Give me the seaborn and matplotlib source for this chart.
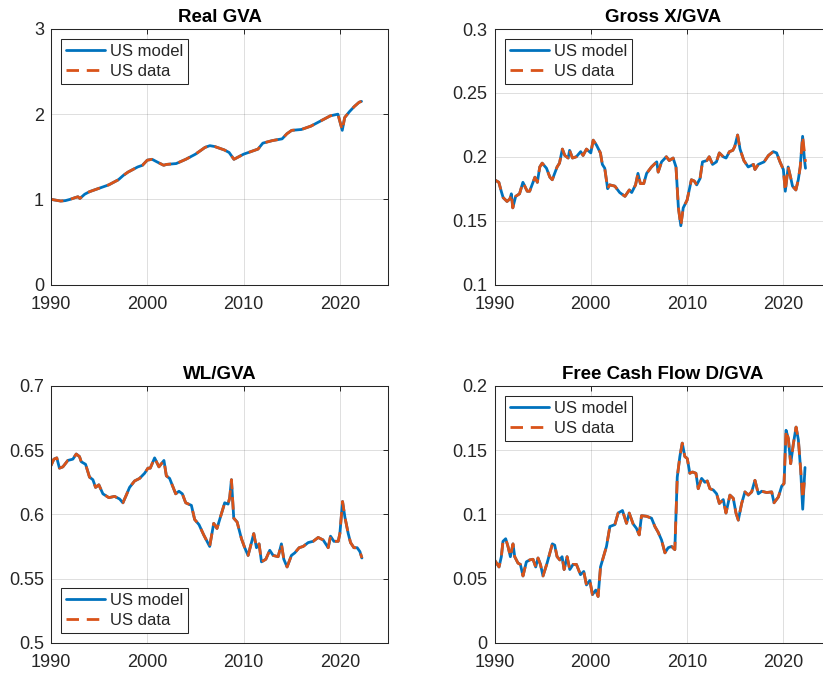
import seaborn as sns
import matplotlib.pyplot as plt

sns.set_style('white')
plt.rcParams['font.family'] = ['Liberation Sans', 'DejaVu Sans']

BLUE = '#0072BD'
ORANGE = '#D95319'
INK = '#262626'

# ---- Real GVA ----
gva_years = [1990.0, 1990.5, 1991.0, 1991.5, 1992.0, 1992.5, 1992.8, 1993.0, 1993.5, 1994.0,
             1995.0, 1996.0, 1997.0, 1997.5, 1998.0, 1999.0, 1999.5, 2000.0, 2000.5, 2001.0,
             2001.7, 2002.0, 2003.0, 2004.0, 2005.0, 2006.0, 2006.5, 2007.0, 2007.5, 2008.0,
             2008.5, 2009.0, 2009.5, 2010.0, 2011.0, 2011.5, 2012.0, 2013.0, 2014.0, 2014.5,
             2015.0, 2016.0, 2017.0, 2018.0, 2018.5, 2019.0, 2019.8, 2020.25, 2020.5, 2021.0,
             2021.5, 2022.0, 2022.25]
gva_model = [1.00, 0.99, 0.98, 0.985, 1.00, 1.02, 1.03, 1.01, 1.06, 1.09,
             1.13, 1.17, 1.23, 1.28, 1.32, 1.38, 1.40, 1.46, 1.47, 1.44,
             1.40, 1.41, 1.42, 1.47, 1.53, 1.61, 1.63, 1.62, 1.60, 1.58,
             1.55, 1.47, 1.50, 1.53, 1.57, 1.59, 1.66, 1.69, 1.71, 1.77,
             1.81, 1.82, 1.86, 1.92, 1.95, 1.98, 2.00, 1.81, 1.96, 2.03,
             2.09, 2.14, 2.15]
gva_data = list(gva_model)

# ---- Gross X/GVA ----
x_years = [1990.0, 1990.45, 1990.7, 1990.9, 1991.3, 1991.6, 1991.75, 1991.9, 1992.2, 1992.6,
           1992.95, 1993.4, 1993.65, 1994.2, 1994.45, 1994.7, 1994.95, 1995.4, 1995.75, 1996.0,
           1996.5, 1996.75, 1997.05, 1997.3, 1997.65, 1997.8, 1998.1, 1998.5, 1998.95, 1999.2,
           1999.55, 2000.0, 2000.25, 2000.6, 2001.0, 2001.2, 2001.45, 2001.75, 2001.95, 2002.5,
           2003.0, 2003.55, 2004.0, 2004.25, 2004.65, 2004.9, 2005.15, 2005.5, 2005.8, 2006.3,
           2006.85, 2007.0, 2007.35, 2007.85, 2008.15, 2008.55, 2008.85, 2009.1, 2009.35, 2009.6,
           2010.0, 2010.45, 2010.75, 2011.0, 2011.35, 2011.6, 2012.05, 2012.3, 2012.65, 2013.05,
           2013.35, 2013.75, 2014.05, 2014.4, 2014.75, 2014.95, 2015.25, 2015.5, 2015.9, 2016.35,
           2016.9, 2017.05, 2017.4, 2018.0, 2018.45, 2018.95, 2019.3, 2019.65, 2020.0, 2020.2,
           2020.5, 2020.75, 2020.95, 2021.3, 2021.55, 2021.75, 2022.0, 2022.2, 2022.3]
x_model = [0.182, 0.180, 0.173, 0.168, 0.165, 0.167, 0.171, 0.160, 0.169, 0.171,
           0.180, 0.173, 0.173, 0.184, 0.180, 0.192, 0.195, 0.191, 0.184, 0.182,
           0.192, 0.195, 0.206, 0.201, 0.199, 0.205, 0.199, 0.200, 0.204, 0.201,
           0.206, 0.203, 0.213, 0.209, 0.203, 0.194, 0.191, 0.175, 0.178, 0.177,
           0.172, 0.169, 0.174, 0.172, 0.178, 0.187, 0.179, 0.179, 0.187, 0.192,
           0.196, 0.188, 0.196, 0.200, 0.197, 0.199, 0.192, 0.160, 0.146, 0.160,
           0.166, 0.182, 0.181, 0.178, 0.183, 0.196, 0.197, 0.200, 0.194, 0.196,
           0.203, 0.200, 0.199, 0.204, 0.205, 0.208, 0.217, 0.206, 0.197, 0.192,
           0.194, 0.190, 0.194, 0.196, 0.201, 0.204, 0.203, 0.196, 0.190, 0.173,
           0.192, 0.184, 0.177, 0.174, 0.182, 0.192, 0.216, 0.197, 0.191]
x_data = x_model[:-2] + [0.203, 0.196]

# ---- WL/GVA ----
wl_years = [1990.0, 1990.3, 1990.6, 1990.88, 1991.23, 1991.75, 1992.27, 1992.62, 1992.96, 1993.14,
            1993.59, 1994.0, 1994.35, 1994.63, 1994.97, 1995.39, 1996.01, 1996.6, 1997.12, 1997.47,
            1997.82, 1998.16, 1998.68, 1999.2, 1999.72, 2000.07, 2000.31, 2000.76, 2001.21, 2001.73,
            2001.98, 2002.32, 2002.95, 2003.29, 2003.64, 2003.99, 2004.58, 2004.92, 2005.37, 2005.86,
            2006.48, 2006.9, 2007.24, 2007.8, 2008.04, 2008.39, 2008.56, 2008.74, 2008.98, 2009.33,
            2009.78, 2010.12, 2010.47, 2010.82, 2011.06, 2011.34, 2011.61, 2011.86, 2012.31, 2012.72,
            2013.07, 2013.59, 2013.93, 2014.18, 2014.52, 2014.97, 2015.32, 2015.77, 2016.19, 2016.71,
            2017.23, 2017.75, 2018.27, 2018.79, 2019.03, 2019.38, 2019.83, 2020.0, 2020.28, 2020.52,
            2020.87, 2021.11, 2021.46, 2021.8, 2022.08, 2022.29]
wl_model = [0.638, 0.643, 0.644, 0.636, 0.637, 0.642, 0.643, 0.647, 0.645, 0.641,
            0.639, 0.629, 0.627, 0.621, 0.623, 0.616, 0.613, 0.614, 0.612, 0.609,
            0.615, 0.621, 0.626, 0.628, 0.632, 0.636, 0.636, 0.644, 0.637, 0.642,
            0.630, 0.628, 0.616, 0.618, 0.616, 0.609, 0.607, 0.596, 0.592, 0.584,
            0.575, 0.593, 0.589, 0.603, 0.609, 0.608, 0.613, 0.627, 0.597, 0.594,
            0.581, 0.574, 0.568, 0.578, 0.585, 0.574, 0.577, 0.563, 0.565, 0.572,
            0.568, 0.567, 0.577, 0.565, 0.559, 0.568, 0.570, 0.574, 0.575, 0.578,
            0.579, 0.582, 0.580, 0.574, 0.583, 0.579, 0.579, 0.585, 0.610, 0.598,
            0.585, 0.578, 0.574, 0.574, 0.571, 0.566]
wl_data = list(wl_model)

# ---- Free Cash Flow D/GVA ----
fcf_years = [1990.0, 1990.47, 1990.71, 1990.88, 1991.16, 1991.4, 1991.65, 1991.92, 1992.1, 1992.44,
             1992.69, 1992.96, 1993.31, 1993.66, 1994.0, 1994.28, 1994.52, 1994.77, 1995.04, 1995.46,
             1996.01, 1996.25, 1996.5, 1996.78, 1997.02, 1997.23, 1997.54, 1997.82, 1998.16, 1998.51,
             1998.93, 1999.27, 1999.55, 1999.9, 2000.17, 2000.52, 2000.76, 2001.01, 2001.28, 2001.63,
             2001.98, 2002.5, 2002.84, 2003.29, 2003.71, 2003.99, 2004.4, 2004.75, 2005.03, 2005.27,
             2005.79, 2006.31, 2006.66, 2007.0, 2007.35, 2007.7, 2008.04, 2008.39, 2008.73, 2008.98,
             2009.25, 2009.5, 2009.77, 2010.02, 2010.29, 2010.57, 2010.92, 2011.16, 2011.51, 2011.85,
             2012.1, 2012.37, 2012.72, 2013.07, 2013.35, 2013.76, 2014.04, 2014.45, 2014.8, 2015.08,
             2015.32, 2015.67, 2016.01, 2016.36, 2016.71, 2017.05, 2017.4, 2017.75, 2018.27, 2018.79,
             2019.03, 2019.48, 2019.83, 2020.07, 2020.28, 2020.52, 2020.76, 2021.04, 2021.32, 2021.56,
             2021.8, 2022.01, 2022.25]
fcf_model = [0.0645, 0.059, 0.067, 0.079, 0.081, 0.075, 0.067, 0.077, 0.067, 0.062,
             0.061, 0.052, 0.063, 0.0645, 0.065, 0.059, 0.066, 0.061, 0.052, 0.062,
             0.077, 0.076, 0.067, 0.0645, 0.067, 0.057, 0.067, 0.057, 0.061, 0.061,
             0.053, 0.0555, 0.045, 0.0485, 0.0375, 0.041, 0.036, 0.059, 0.066, 0.075,
             0.0905, 0.092, 0.101, 0.103, 0.093, 0.101, 0.0925, 0.089, 0.084, 0.099,
             0.0985, 0.097, 0.0905, 0.086, 0.080, 0.070, 0.074, 0.075, 0.0725, 0.129,
             0.145, 0.1555, 0.145, 0.1435, 0.132, 0.133, 0.132, 0.120, 0.128, 0.125,
             0.126, 0.120, 0.119, 0.116, 0.1085, 0.1115, 0.101, 0.115, 0.1125, 0.101,
             0.0955, 0.1085, 0.1175, 0.115, 0.1175, 0.1265, 0.116, 0.118, 0.117, 0.1175,
             0.109, 0.1135, 0.122, 0.124, 0.1655, 0.159, 0.1395, 0.155, 0.168, 0.158,
             0.1345, 0.104, 0.1365]
fcf_data = fcf_model[:-2] + [0.112, 0.131]

xticks = [1990, 2000, 2010, 2020]


def draw_panel(ax, years, model, data, title, yticks, ylabels, legend_loc):
    sns.lineplot(x=years, y=model, ax=ax, color=BLUE, lw=2, label='US model')
    sns.lineplot(x=years, y=data, ax=ax, color=ORANGE, lw=2,
                 ls=(0, (4.5, 2.8)), label='US data')
    ax.set_xlim(1990, 2025)
    ax.set_ylim(yticks[0], yticks[-1])
    ax.set_xticks(xticks)
    ax.set_xticklabels([str(t) for t in xticks])
    ax.set_yticks(yticks)
    ax.set_yticklabels(ylabels)
    ax.grid(True, color=INK, alpha=0.15, lw=0.7)
    ax.tick_params(direction='in', top=True, right=True, length=3.5, width=0.7,
                   colors=INK, labelsize=13)
    ax.tick_params(axis='x', pad=8)
    ax.tick_params(axis='y', pad=5)
    for s in ax.spines.values():
        s.set_color(INK)
        s.set_linewidth(0.75)
    ax.set_title(title, fontsize=13.5, fontweight='bold', pad=5, color='black')
    leg = ax.legend(loc=legend_loc, fontsize=12, handlelength=2.35, handletextpad=0.3,
                    borderaxespad=0.6, fancybox=False, framealpha=1, edgecolor=INK,
                    labelspacing=0.3, borderpad=0.3)
    leg.get_frame().set_linewidth(0.75)


W, H = 823, 675
fig = plt.figure(figsize=(W / 100, H / 100), dpi=100)


def px_axes(left, top, w, h):
    return fig.add_axes([left / W, 1 - (top + h) / H, w / W, h / H])


ax1 = px_axes(51, 29, 337, 255.5)
ax2 = px_axes(494.5, 29, 337, 255.5)
ax3 = px_axes(51, 386, 337, 256.7)
ax4 = px_axes(494.5, 386, 337, 256.7)

draw_panel(ax1, gva_years, gva_model, gva_data, 'Real GVA',
           [0, 1, 2, 3], ['0', '1', '2', '3'], 'upper left')
draw_panel(ax2, x_years, x_model, x_data, 'Gross X/GVA',
           [0.1, 0.15, 0.2, 0.25, 0.3], ['0.1', '0.15', '0.2', '0.25', '0.3'], 'upper left')
draw_panel(ax3, wl_years, wl_model, wl_data, 'WL/GVA',
           [0.5, 0.55, 0.6, 0.65, 0.7], ['0.5', '0.55', '0.6', '0.65', '0.7'], 'lower left')
draw_panel(ax4, fcf_years, fcf_model, fcf_data, 'Free Cash Flow D/GVA',
           [0, 0.05, 0.1, 0.15, 0.2], ['0', '0.05', '0.1', '0.15', '0.2'], 'upper left')

fig.savefig('out.png', dpi=100)
